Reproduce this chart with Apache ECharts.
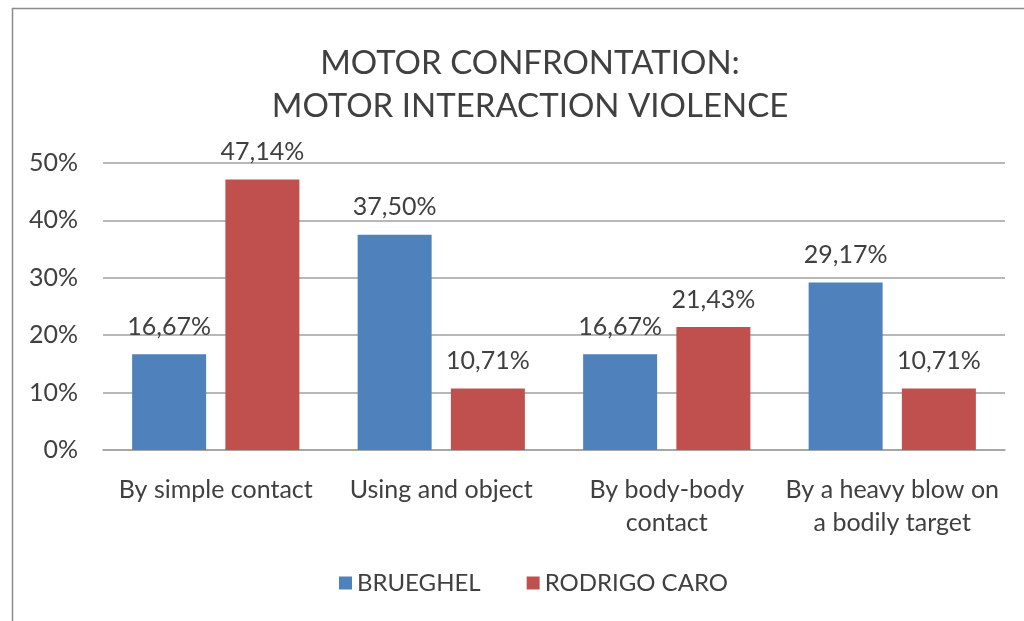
<!DOCTYPE html>
<html><head><meta charset="utf-8">
<script src="https://cdn.jsdelivr.net/npm/echarts@6/dist/echarts.min.js"></script>
<style>html,body{margin:0;padding:0;background:#fff}#c{width:1024px;height:621px}</style>
</head><body><div id="c"></div>
<script>
const categories = ["By simple contact", "Using and object", "By body-body\ncontact", "By a heavy blow on\na bodily target"];
const brueghel = [16.67, 37.50, 16.67, 29.17];
const rodrigoCaro = [47.14, 10.71, 21.43, 10.71];
const seriesNames = ["BRUEGHEL", "RODRIGO CARO"];
const titleLines = ["MOTOR CONFRONTATION:", "MOTOR INTERACTION VIOLENCE"];
const yTicks = [0, 10, 20, 30, 40, 50];

const FONT = "Lato";
const TXT = "#404040";
const chart = echarts.init(document.getElementById('c'), null, {renderer: 'canvas'});
const fmt = v => v.toFixed(2).replace('.', ',') + '%';
chart.setOption({
  animation: false,
  backgroundColor: '#fff',
  graphic: [{type: 'rect', shape: {x: 12.5, y: 8.5, width: 1030, height: 640}, style: {fill: 'none', stroke: '#8c8c8c', lineWidth: 1.5}}],
  title: {
    text: titleLines.join('\n'), left: 525, top: 37, textAlign: 'center',
    textStyle: {fontFamily: FONT, fontSize: 33, fontWeight: 'normal', color: TXT, lineHeight: 43}
  },
  legend: {
    data: seriesNames, top: 566, left: 334, itemWidth: 13, itemHeight: 13, itemGap: 46,
    icon: 'rect',
    textStyle: {fontFamily: FONT, fontSize: 24, color: TXT}
  },
  grid: {left: 103, right: 19, top: 163, bottom: 171, containLabel: false},
  xAxis: {
    type: 'category', data: categories,
    axisTick: {show: false},
    axisLine: {lineStyle: {color: '#a0a0a0', width: 1.5}},
    axisLabel: {fontFamily: FONT, fontSize: 25, color: TXT, margin: 23, lineHeight: 33, interval: 0}
  },
  yAxis: {
    type: 'value', min: yTicks[0], max: yTicks[yTicks.length - 1], interval: 10,
    axisLine: {show: false}, axisTick: {show: false},
    splitLine: {lineStyle: {color: '#a0a0a0', width: 1.5}},
    axisLabel: {fontFamily: FONT, fontSize: 25, color: TXT, margin: 25, formatter: v => v + '%'}
  },
  series: [
    {name: seriesNames[0], type: 'bar', data: brueghel, barWidth: 74, barGap: '26%', itemStyle: {color: '#4F81BD'},
     label: {show: true, position: 'top', distance: 15, formatter: p => fmt(p.value), fontFamily: FONT, fontSize: 25, color: TXT}},
    {name: seriesNames[1], type: 'bar', data: rodrigoCaro, barWidth: 74, itemStyle: {color: '#C0504D'},
     label: {show: true, position: 'top', distance: 15, formatter: p => fmt(p.value), fontFamily: FONT, fontSize: 25, color: TXT}}
  ]
});
</script></body></html>
